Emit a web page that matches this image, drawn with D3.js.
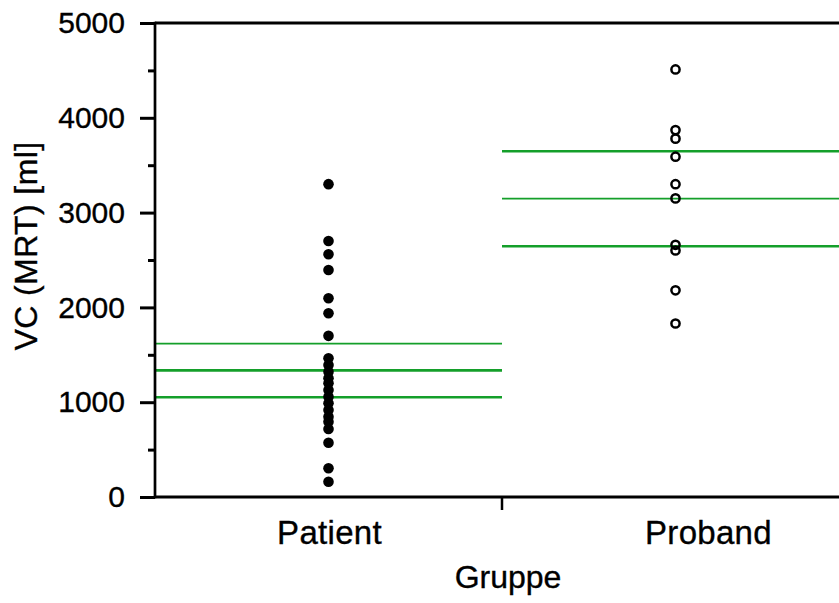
<!DOCTYPE html>
<html>
<head>
<meta charset="utf-8">
<script src="https://cdn.jsdelivr.net/npm/d3@7"></script>
<style>
  html, body { margin: 0; padding: 0; background: #fff; }
  svg { display: block; }
  text { font-family: "Liberation Sans", Arial, sans-serif; fill: #000; stroke: #000; stroke-width: 0.35px; }
</style>
</head>
<body>
<div id="chart"></div>
<script>
// Vital capacity (MRT) per group
const groups = ["Patient", "Proband"];
const patientValues = [3300, 2700, 2560, 2395, 2096, 1938, 1700, 1463, 1392, 1322,
                       1252, 1199, 1129, 1058, 988, 918, 847, 794, 717, 573, 303, 161];
const probandValues = [4510, 3870, 3780, 3590, 3300, 3150, 2660, 2600, 2180, 1830];
// summary lines per group: upper, centre, lower
const patientLines = [1617, 1336, 1052];
const probandLines = [3647, 3147, 2645];
const yTicks = [0, 1000, 2000, 3000, 4000, 5000];
const yMinorTicks = [500, 1500, 2500, 3500, 4500];
const xTitle = "Gruppe";
const yTitle = "VC (MRT) [ml]";

const W = 839, H = 603;
const plotLeft = 155, plotTop = 23, plotBottom = 497, plotRightEnd = 849;
const green = "#149f2a";

const svg = d3.select("#chart").append("svg").attr("width", W).attr("height", H);

const y = d3.scaleLinear().domain([0, 5000]).range([plotBottom, plotTop]);
const x = d3.scaleBand().domain(groups).range([plotLeft, plotRightEnd]);
const cx = g => x(g) + x.bandwidth() / 2;

// summary lines (one thin line per group)
const lineData = [
  ...patientLines.map((v, i) => ({ g: "Patient", v, thin: i === 0 })),
  ...probandLines.map((v, i) => ({ g: "Proband", v, thin: i === 1 }))
];
svg.append("g").selectAll("line").data(lineData).join("line")
  .attr("x1", d => x(d.g))
  .attr("x2", d => Math.min(x(d.g) + x.bandwidth(), W))
  .attr("y1", d => y(d.v)).attr("y2", d => y(d.v))
  .attr("stroke", green)
  .attr("stroke-width", d => d.thin ? 1.7 : 2.7);

// patient points: filled
svg.append("g").selectAll("circle").data(patientValues).join("circle")
  .attr("cx", cx("Patient")).attr("cy", d => y(d)).attr("r", 5.3)
  .attr("fill", "#000");

// proband points: open
svg.append("g").selectAll("circle").data(probandValues).join("circle")
  .attr("cx", cx("Proband")).attr("cy", d => y(d)).attr("r", 4.1)
  .attr("fill", "none").attr("stroke", "#000").attr("stroke-width", 2.5);

// y axis
const yAxis = svg.append("g").attr("transform", `translate(${plotLeft},0)`)
  .call(d3.axisLeft(y).tickValues(yTicks).tickSize(15).tickPadding(15).tickFormat(d3.format("d")));
yAxis.select(".domain").remove();
yAxis.selectAll(".tick line").attr("stroke", "#000").attr("stroke-width", 3);
yAxis.selectAll(".tick text").attr("font-size", 30).attr("font-family", "Liberation Sans, Arial, sans-serif");

const yMinor = svg.append("g").attr("transform", `translate(${plotLeft},0)`)
  .call(d3.axisLeft(y).tickValues(yMinorTicks).tickSize(7).tickFormat(""));
yMinor.select(".domain").remove();
yMinor.selectAll(".tick line").attr("stroke", "#000").attr("stroke-width", 3);

// frame: left, bottom, top
svg.append("line").attr("x1", plotLeft).attr("x2", plotLeft).attr("y1", y(5000) - 1.3).attr("y2", y(0) + 1.3)
  .attr("stroke", "#000").attr("stroke-width", 2.7);
svg.append("line").attr("x1", plotLeft).attr("x2", W).attr("y1", y(0)).attr("y2", y(0))
  .attr("stroke", "#000").attr("stroke-width", 2.8);
svg.append("line").attr("x1", plotLeft).attr("x2", W).attr("y1", y(5000)).attr("y2", y(5000))
  .attr("stroke", "#000").attr("stroke-width", 2.8);

// group divider tick on the x axis
svg.append("line")
  .attr("x1", x("Proband")).attr("x2", x("Proband"))
  .attr("y1", y(0)).attr("y2", y(0) + 13)
  .attr("stroke", "#000").attr("stroke-width", 2.5);

// x category labels
const labelShift = { Patient: 1, Proband: 33 };
svg.append("g").selectAll("text").data(groups).join("text")
  .attr("x", d => cx(d) + labelShift[d])
  .attr("y", 544)
  .attr("text-anchor", "middle")
  .attr("font-size", 33)
  .attr("letter-spacing", 0.3)
  .text(d => d);

// axis titles
svg.append("text")
  .attr("x", 508).attr("y", 588)
  .attr("text-anchor", "middle").attr("font-size", 32)
  .text(xTitle);

svg.append("text")
  .attr("transform", "translate(37,246) rotate(-90)")
  .attr("text-anchor", "middle").attr("font-size", 32)
  .attr("letter-spacing", 0.4)
  .text(yTitle);
</script>
</body>
</html>
